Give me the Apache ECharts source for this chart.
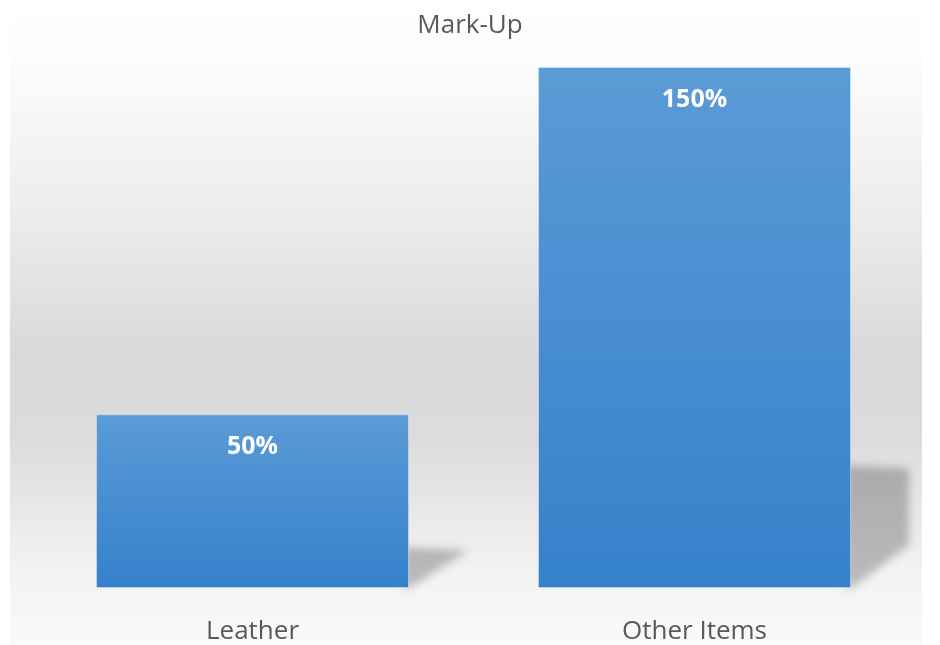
<!DOCTYPE html>
<html>
<head>
<meta charset="utf-8">
<script src="https://cdn.jsdelivr.net/npm/echarts@6/dist/echarts.min.js"></script>
<style>
  html, body { margin: 0; padding: 0; background: #ffffff; }
  #chart { width: 940px; height: 645px; }
</style>
</head>
<body>
<div id="chart"></div>
<script>
// Mark-up per product group, in percent
const categories = ['Leather', 'Other Items'];
const markUp = [50, 150];

const BAR_WIDTH = 313;
const FONT = '"Open Sans", "Noto Sans", sans-serif';
// The shadow shape is drawn off to the side and only its blurred
// canvas shadow is shifted back under the bar, so its edges stay soft.
const SHADOW_SHIFT = 3000;

const chart = echarts.init(document.getElementById('chart'), null, { renderer: 'canvas' });

// Floor shadow cast to the lower right of each bar
function renderShadow(params, api) {
  const top = api.coord([api.value(0), api.value(1)]);
  const base = api.coord([api.value(0), 0]);
  const right = top[0] + BAR_WIDTH / 2;
  const h = base[1] - top[1];
  const sTop = base[1] - h * 0.235;
  const w = 58;
  const diagTop = Math.max(sTop + 4, base[1] - 43);
  const pts = [
    [right - 6, sTop],
    [right + w, sTop + 3],
    [right + w, diagTop],
    [right + 2, base[1] - 1],
    [right - 6, base[1] - 1]
  ].map(p => [p[0] - SHADOW_SHIFT, p[1]]);
  return {
    type: 'polygon',
    shape: { points: pts },
    style: {
      fill: '#000',
      shadowBlur: 9,
      shadowOffsetX: SHADOW_SHIFT,
      shadowOffsetY: 0,
      shadowColor: 'rgba(0,0,0,0.24)'
    }
  };
}

const option = {
  animation: false,
  backgroundColor: '#ffffff',
  graphic: [{
    type: 'rect',
    left: 10,
    top: 0,
    z: -10,
    shape: { width: 912, height: 645 },
    style: {
      fill: new echarts.graphic.LinearGradient(0, 0, 0, 1, [
        { offset: 0, color: '#ffffff' },
        { offset: 0.1, color: '#fcfcfc' },
        { offset: 0.35, color: '#ebebeb' },
        { offset: 0.55, color: '#d9d9d9' },
        { offset: 0.68, color: '#dcdcdc' },
        { offset: 0.88, color: '#f2f2f2' },
        { offset: 1, color: '#fafafa' }
      ])
    }
  }],
  title: {
    text: 'Mark-Up',
    left: 'center',
    top: 8,
    textStyle: {
      fontFamily: FONT,
      fontSize: 26,
      fontWeight: 'normal',
      color: '#595959'
    }
  },
  grid: { left: 31.5, right: 24.5, top: 67, bottom: 57 },
  xAxis: {
    type: 'category',
    data: categories,
    axisLine: { show: false },
    axisTick: { show: false },
    axisLabel: {
      margin: 31,
      fontFamily: FONT,
      fontSize: 26,
      color: '#595959'
    }
  },
  yAxis: {
    type: 'value',
    min: 0,
    max: 150,
    show: false,
    splitLine: { show: false }
  },
  series: [
    {
      type: 'custom',
      renderItem: renderShadow,
      data: markUp.map((v, i) => [i, v]),
      z: 1,
      silent: true,
      clip: false
    },
    {
      type: 'bar',
      data: markUp,
      barWidth: BAR_WIDTH,
      z: 2,
      itemStyle: {
        color: new echarts.graphic.LinearGradient(0, 0, 0, 1, [
          { offset: 0, color: '#5b9bd6' },
          { offset: 1, color: '#3581cb' }
        ]),
        borderColor: 'rgba(255,255,255,0.35)',
        borderWidth: 1
      },
      label: {
        show: true,
        position: 'insideTop',
        distance: 20,
        formatter: p => p.value + '%',
        fontFamily: FONT,
        fontSize: 25,
        fontWeight: 'bold',
        color: '#ffffff'
      }
    }
  ]
};

chart.setOption(option);
</script>
</body>
</html>
